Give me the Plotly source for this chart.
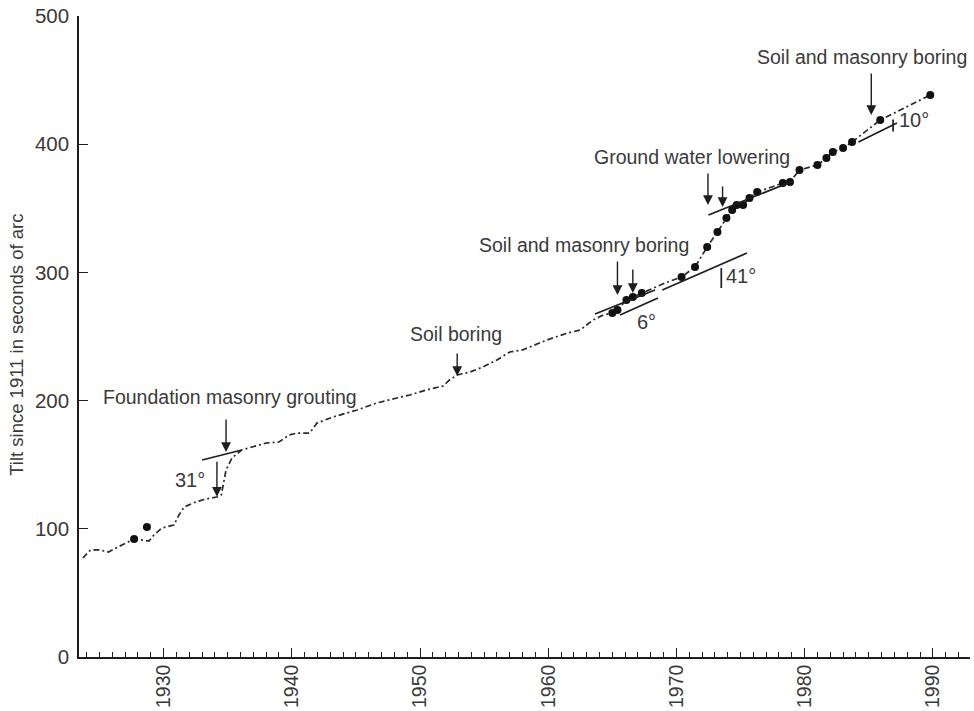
import plotly.graph_objects as go

# Tilt record, 1923-1990 (seconds of arc since 1911)
curve_year = [1923.7, 1924.3, 1925.0, 1925.7, 1926.75, 1927.7, 1928.86, 1929.25, 1929.87,
              1930.8, 1931.2, 1931.6, 1932.5, 1933.3, 1934.16, 1934.5, 1934.87, 1935.33,
              1936.1, 1936.9, 1938.0, 1939.0, 1939.8, 1940.4, 1941.4, 1941.96, 1943.2,
              1945.1, 1946.6, 1948.2, 1949.2, 1950.5, 1951.8, 1952.3, 1952.9, 1953.9,
              1954.9, 1956.0, 1957.0, 1958.0, 1959.9, 1961.5, 1962.5, 1963.5, 1964.3,
              1965.0, 1965.4, 1966.1, 1966.6, 1967.3, 1969.1, 1970.4, 1971.45, 1972.4,
              1973.2, 1973.9, 1974.35, 1974.7, 1975.2, 1975.7, 1976.3, 1978.3, 1978.86,
              1979.6, 1981.0, 1981.7, 1982.2, 1983.0, 1983.7, 1985.9, 1989.8]
curve_tilt = [77.2, 83.5, 83.5, 81.9, 87.4, 92.0, 90.5, 95.2, 100.6,
              103.0, 110.8, 117.0, 120.9, 123.2, 124.8, 126.4, 145.9, 155.2,
              161.5, 163.8, 166.9, 167.7, 173.2, 174.7, 174.7, 182.5, 187.2,
              192.7, 198.1, 202.0, 204.4, 208.3, 211.4, 216.1, 220.0, 222.3,
              226.2, 231.7, 237.9, 239.5, 247.3, 252.7, 255.1, 262.9, 266.8,
              268.3, 270.7, 278.5, 280.8, 283.9, 291.7, 296.4, 304.2, 319.8,
              331.5, 342.4, 348.7, 352.6, 352.6, 358.0, 362.7, 369.7, 370.5,
              379.9, 383.8, 389.2, 393.9, 397.0, 401.7, 418.9, 438.4]

# Individual survey readings
dot_year = [1927.7, 1928.7, 1965.0, 1965.4, 1966.1, 1966.6, 1967.3, 1970.4, 1971.45,
            1972.4, 1973.2, 1973.9, 1974.35, 1974.7, 1975.2, 1975.7, 1976.3, 1978.3,
            1978.86, 1979.6, 1981.0, 1981.7, 1982.2, 1983.0, 1983.7, 1985.9, 1989.8]
dot_tilt = [92.0, 101.4, 268.3, 270.7, 278.5, 280.8, 283.9, 296.4, 304.2,
            319.8, 331.5, 342.4, 348.7, 352.6, 352.6, 358.0, 362.7, 369.7,
            370.5, 379.9, 383.8, 389.2, 393.9, 397.0, 401.7, 418.9, 438.4]

# Trend segments: (year0, tilt0, year1, tilt1)
trend_segments = [
    (1933.0, 153.7, 1936.1, 161.5),
    (1963.65, 267.6, 1968.33, 286.3),
    (1965.6, 266.8, 1968.56, 280.0),
    (1968.9, 286.3, 1975.5, 315.1),
    (1972.5, 344.8, 1979.1, 371.3),
    (1984.2, 401.7, 1987.2, 416.5),
]
# Small angle bars: (year, tilt0, tilt1)
angle_bars = [(1973.5, 287.8, 303.4), (1986.9, 409.9, 419.3)]

# Intervention labels: (text, year, tilt)
event_labels = [
    ("Foundation masonry grouting", 1935.2, 202.8),
    ("Soil boring", 1952.8, 252.0),
    ("Soil and masonry boring", 1962.8, 321.4),
    ("Ground water lowering", 1971.2, 390.0),
    ("Soil and masonry boring", 1984.5, 468.0),
]
# Event arrows: (year, tilt_tail, tilt_head)
event_arrows = [
    (1934.87, 186.4, 159.9),
    (1934.16, 153.5, 125.0),
    (1952.9, 237.9, 219.2),
    (1965.4, 309.7, 282.4),
    (1966.6, 303.4, 283.9),
    (1972.46, 378.3, 352.6),
    (1973.6, 368.2, 351.0),
    (1985.2, 456.3, 422.8),
]
# Rotation angle labels: (text, year, tilt)
angle_labels = [("31°", 1932.06, 138.0), ("6°", 1967.7, 261.0),
                ("41°", 1975.0, 297.2), ("10°", 1988.5, 418.9)]

Y_TITLE = "Tilt since 1911 in seconds of arc"

INK = "#1e1e1e"
TEXT = "#3a3a3a"
FONT = "Liberation Sans, Arial, sans-serif"

fig = go.Figure()

fig.add_trace(go.Scatter(x=curve_year, y=curve_tilt, mode="lines",
                         line=dict(color="#2a2a2a", width=1.7, dash="6px,3px,2px,3px"),
                         hoverinfo="skip", showlegend=False))
fig.add_trace(go.Scatter(x=dot_year, y=dot_tilt, mode="markers",
                         marker=dict(color="#111111", size=8),
                         showlegend=False))

for y0, t0, y1, t1 in trend_segments:
    fig.add_trace(go.Scatter(x=[y0, y1], y=[t0, t1], mode="lines",
                             line=dict(color=INK, width=1.7),
                             hoverinfo="skip", showlegend=False))
for yr, t0, t1 in angle_bars:
    fig.add_trace(go.Scatter(x=[yr, yr], y=[t0, t1], mode="lines",
                             line=dict(color=INK, width=1.7),
                             hoverinfo="skip", showlegend=False))

annotations = []
for text, yr, t in event_labels:
    annotations.append(dict(x=yr, y=t, text=text, showarrow=False,
                            font=dict(family=FONT, size=19.5, color=TEXT)))
for yr, tail, head in event_arrows:
    annotations.append(dict(x=yr, y=head, ax=yr, ay=tail, xref="x", yref="y",
                            axref="x", ayref="y", text="", showarrow=True,
                            arrowhead=2, arrowsize=1.4, arrowwidth=1.4,
                            arrowcolor=INK, standoff=0))
for text, yr, t in angle_labels:
    annotations.append(dict(x=yr, y=t, text=text, showarrow=False,
                            font=dict(family=FONT, size=20, color=TEXT)))

# Vertical axis title, set in the left margin
annotations.append(dict(xref="paper", yref="paper", x=-0.0696, y=0.487,
                        xanchor="center", yanchor="middle", textangle=-90,
                        text=Y_TITLE, showarrow=False,
                        font=dict(family=FONT, size=18.5, color=TEXT)))

fig.update_layout(
    width=974, height=711,
    margin=dict(l=79, r=4, t=16, b=54),
    paper_bgcolor="white", plot_bgcolor="white",
    font=dict(family=FONT, color=TEXT),
    annotations=annotations,
    xaxis=dict(range=[1923.4, 1992.9], tick0=1930, dtick=10,
               ticks="inside", ticklen=9, tickwidth=1.4, tickcolor=INK,
               tickangle=-90, tickfont=dict(size=19.5, color=TEXT),
               ticklabelstandoff=-2,
               showline=True, linecolor=INK, linewidth=1.6,
               showgrid=False, zeroline=False,
               minor=dict(dtick=1, ticks="inside", ticklen=5, tickwidth=1.2,
                          tickcolor=INK, showgrid=False)),
    yaxis=dict(range=[0, 500], dtick=100, ticks="inside", ticklen=9,
               tickwidth=1.4, tickcolor=INK, tickfont=dict(size=20.5, color=TEXT),
               ticklabelstandoff=4,
               showline=True, linecolor=INK, linewidth=1.6,
               showgrid=False, zeroline=False, automargin=False),
)

fig.write_html("out.html")
